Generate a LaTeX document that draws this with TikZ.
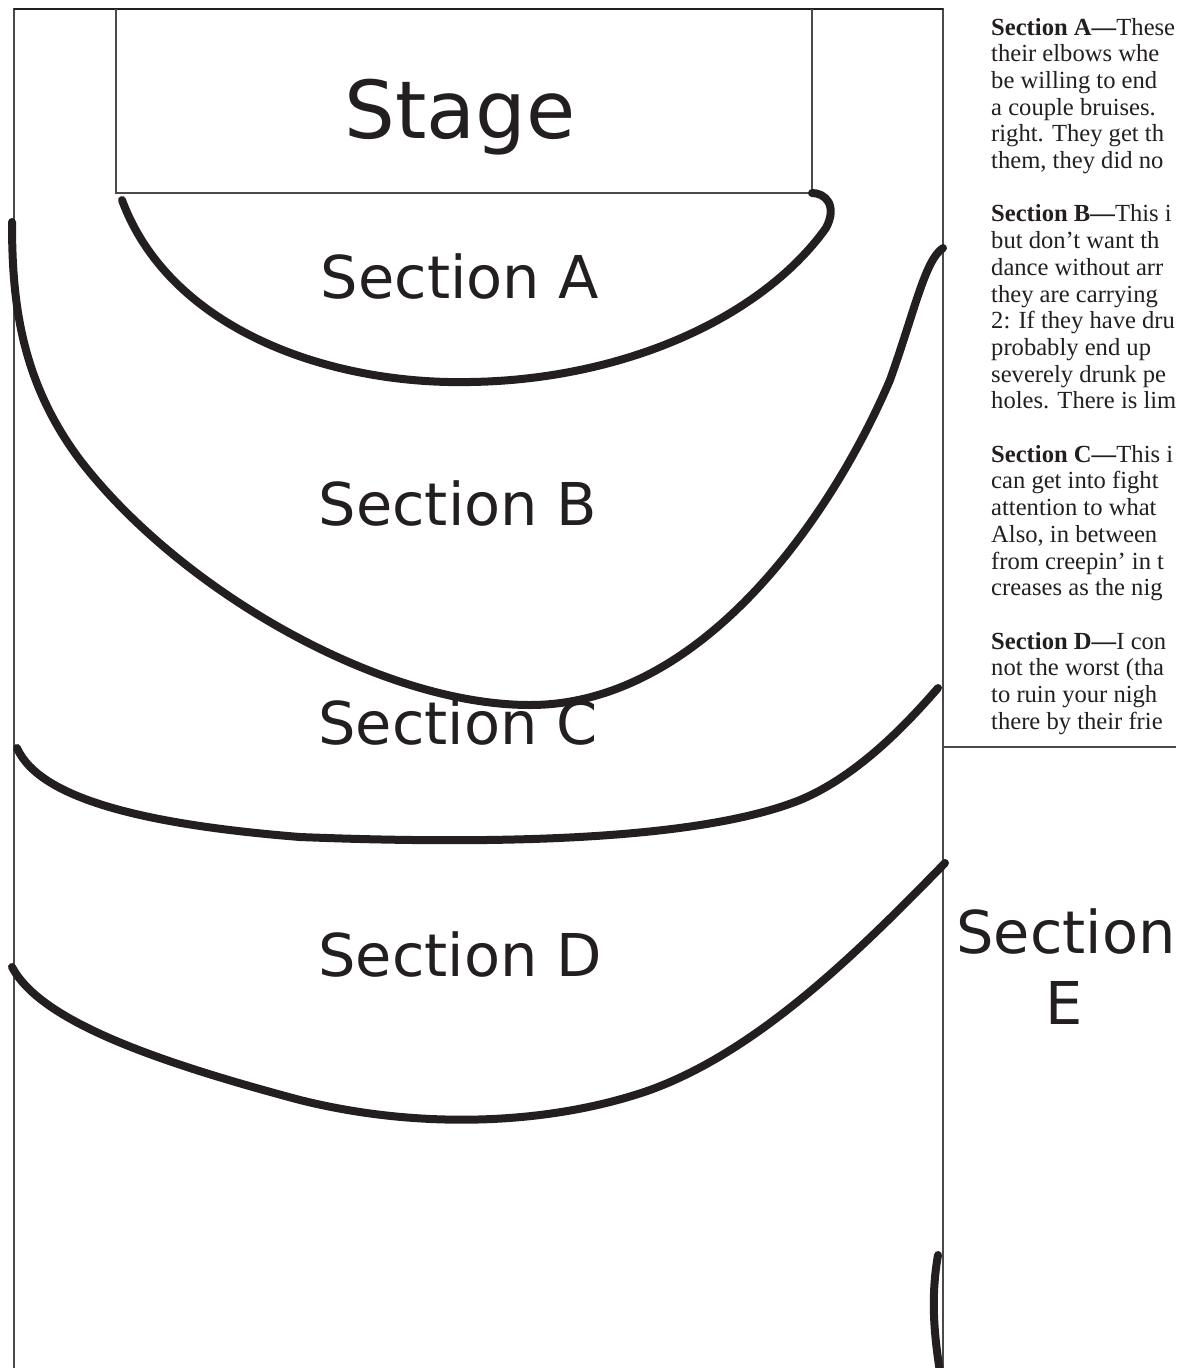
\documentclass[tikz,border=0pt]{standalone}
\usepackage{fontspec}
\setmainfont{Liberation Serif}
\newfontfamily\labelfont{DejaVu Sans}
\definecolor{ink}{HTML}{231F20}
\definecolor{rule}{HTML}{4A4A4A}
\tikzset{
  frameline/.style={draw=rule, line width=2pt},
  zoneline/.style={draw=ink, line width=8pt, line cap=round, line join=round},
  bigname/.style={font=\labelfont\fontsize{59}{70}\selectfont, text=ink, inner sep=0pt, anchor=base},
  body/.style={anchor=base west, inner sep=0pt, font=\fontsize{24.6}{26.7}\selectfont, text=ink},
}
\begin{document}
\begin{tikzpicture}[x=1pt, y=-1pt]
\useasboundingbox (0,0) rectangle (1176,1368);
\clip (0,0) rectangle (1176,1368);
\fill[white] (0,0) rectangle (1176,1368);

% floor plan frame and stage
\draw[frameline] (14,1368) -- (14,9) -- (943,9) -- (943,1368);
\draw[frameline, draw=ink, line width=2.6pt] (14,9) -- (943,9);
\draw[frameline] (943,747) -- (1176,747);
\draw[frameline] (116,9) -- (116,193) -- (812,193) -- (812,9);

% labels
\node[bigname, font=\labelfont\fontsize{80}{80}\selectfont] (stage) at (460,138) {Stage};
\node[bigname] (secA) at (460,298) {Section A};
\node[bigname] (secB) at (458,525) {Section B};
\node[bigname] (secC) at (458,744) {Section C};
\node[bigname] (secD) at (460,976) {Section D};
\node[bigname] (secE) at (1066,953) {Section};
\node[bigname] (secEletter) at (1064,1024) {E};

% zone boundaries
\draw[zoneline] (122,200) .. controls (170,330) and (330,385) .. (470,382)
  .. controls (620,380) and (760,320) .. (826,228)
  .. controls (838,205) and (825,193) .. (812,193);
\draw[zoneline] (12,222) .. controls (12,300) and (20,380) .. (80,460)
  .. controls (180,590) and (380,705) .. (530,705)
  .. controls (700,705) and (830,520) .. (890,380)
  .. controls (915,310) and (925,260) .. (943,248);
\draw[zoneline] (17,748) .. controls (40,800) and (150,825) .. (300,837)
  .. controls (500,845) and (700,840) .. (800,800)
  .. controls (860,775) and (910,720) .. (938,688);
\draw[zoneline] (12,967) .. controls (40,1020) and (150,1060) .. (300,1100)
  .. controls (420,1130) and (550,1125) .. (650,1090)
  .. controls (760,1050) and (860,950) .. (945,863);
\draw[zoneline] (938,1255) .. controls (930,1300) and (935,1340) .. (940,1372);

% notes column
\node[body] (a1) at (991,35)    {\textbf{Section A—}These};
\node[body] (a2) at (991,61.7)  {their elbows whe};
\node[body] (a3) at (991,88.4)  {be willing to end};
\node[body] (a4) at (991,115.1) {a couple bruises.};
\node[body] (a5) at (991,141.8) {right. They get th};
\node[body] (a6) at (991,168.5) {them, they did no};

\node[body] (b1) at (991,221.9) {\textbf{Section B—}This i};
\node[body] (b2) at (991,248.6) {but don’t want th};
\node[body] (b3) at (991,275.3) {dance without arr};
\node[body] (b4) at (991,302)   {they are carrying};
\node[body] (b5) at (991,328.7) {2: If they have dru};
\node[body] (b6) at (991,355.4) {probably end up};
\node[body] (b7) at (991,382.1) {severely drunk pe};
\node[body] (b8) at (991,408.8) {holes. There is lim};

\node[body] (c1) at (991,462.2) {\textbf{Section C—}This i};
\node[body] (c2) at (991,488.9) {can get into fight};
\node[body] (c3) at (991,515.6) {attention to what};
\node[body] (c4) at (991,542.3) {Also, in between};
\node[body] (c5) at (991,569)   {from creepin’ in t};
\node[body] (c6) at (991,595.7) {creases as the nig};

\node[body] (d1) at (991,649.1) {\textbf{Section D—}I con};
\node[body] (d2) at (991,675.8) {not the worst (tha};
\node[body] (d3) at (991,702.5) {to ruin your nigh};
\node[body] (d4) at (991,729.2) {there by their frie};
\end{tikzpicture}
\end{document}
